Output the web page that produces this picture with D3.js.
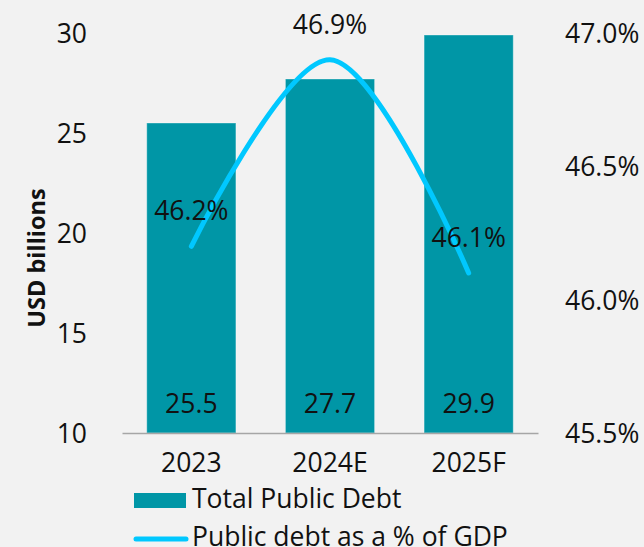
<!DOCTYPE html>
<html lang="en">
<head>
  <meta charset="UTF-8">
  <title>Public Debt</title>
  <script src="https://cdn.jsdelivr.net/npm/d3@7"></script>
  <style>
    html, body {
      margin: 0;
      padding: 0;
      background: #f2f2f2;
    }
    svg text {
      font-family: "Open Sans", sans-serif;
      fill: #111;
    }
  </style>
</head>
<body>
<div id="chart"></div>

<script>
  // chart data
  const years = ["2023", "2024E", "2025F"];
  const debtValues = [25.5, 27.7, 29.9];
  const gdpShare = [46.2, 46.9, 46.1];
  const leftTicks = [10, 15, 20, 25, 30];
  const rightTicks = [45.5, 46.0, 46.5, 47.0];
  const seriesNames = ["Total Public Debt", "Public debt as a % of GDP"];

  const width = 644;
  const height = 547;
  const plot = { left: 122, right: 538, top: 33, bottom: 433 };
  const fontSize = 26.5;

  const barColor = "#0096a6";
  const lineColor = "#00c8ff";

  const svg = d3.select("#chart")
    .append("svg")
    .attr("width", width)
    .attr("height", height);

  const x = d3.scaleBand()
    .domain(years)
    .range([plot.left, plot.right])
    .paddingInner(0.357)
    .paddingOuter(0.1785);

  const yLeft = d3.scaleLinear()
    .domain([10, 30])
    .range([plot.bottom, plot.top]);

  const yRight = d3.scaleLinear()
    .domain([45.5, 47.0])
    .range([plot.bottom, plot.top]);

  // left axis (labels only)
  const leftAxis = svg.append("g")
    .attr("transform", `translate(${plot.left - 35},0)`)
    .call(d3.axisLeft(yLeft).tickValues(leftTicks).tickSize(0).tickPadding(0));
  leftAxis.select(".domain").remove();
  leftAxis.selectAll("text")
    .attr("font-size", fontSize)
    .attr("dy", "0.36em")
    .attr("fill", "#111");

  // right axis (labels only)
  const rightAxis = svg.append("g")
    .attr("transform", `translate(565,0)`)
    .call(d3.axisRight(yRight).tickValues(rightTicks).tickSize(0).tickPadding(0)
      .tickFormat(d => d.toFixed(1) + "%"));
  rightAxis.select(".domain").remove();
  rightAxis.selectAll("text")
    .attr("font-size", fontSize)
    .attr("dy", "0.36em")
    .attr("fill", "#111");

  // y title
  svg.append("text")
    .attr("transform", `translate(45,258) rotate(-90)`)
    .attr("text-anchor", "middle")
    .attr("font-size", 23.5)
    .attr("font-weight", "bold")
    .text("USD billions");

  // bars
  svg.append("g")
    .selectAll("rect")
    .data(years)
    .join("rect")
    .attr("x", d => x(d))
    .attr("width", x.bandwidth())
    .attr("y", (d, i) => yLeft(debtValues[i]))
    .attr("height", (d, i) => plot.bottom - yLeft(debtValues[i]))
    .attr("fill", barColor)
    .attr("stroke", "rgba(255,255,255,0.35)")
    .attr("stroke-width", 1);

  // x axis
  const xAxis = svg.append("g")
    .attr("transform", `translate(0,${plot.bottom})`)
    .call(d3.axisBottom(x).tickSize(0).tickPadding(0));
  xAxis.select(".domain")
    .attr("stroke", "#a6a6a6")
    .attr("stroke-width", 1.3);
  xAxis.selectAll("text")
    .attr("font-size", fontSize)
    .attr("dy", "1.47em")
    .attr("y", 0)
    .attr("fill", "#111");

  // bar labels
  svg.append("g")
    .selectAll("text")
    .data(years)
    .join("text")
    .attr("x", d => x(d) + x.bandwidth() / 2)
    .attr("y", plot.bottom - 20)
    .attr("text-anchor", "middle")
    .attr("font-size", fontSize)
    .text((d, i) => debtValues[i].toFixed(1));

  // line
  const line = d3.line()
    .x((d, i) => x(years[i]) + x.bandwidth() / 2)
    .y(d => yRight(d))
    .curve(d3.curveCatmullRom.alpha(0.5));

  svg.append("path")
    .datum(gdpShare)
    .attr("d", line)
    .attr("fill", "none")
    .attr("stroke", lineColor)
    .attr("stroke-width", 5)
    .attr("stroke-linecap", "round");

  // line labels
  svg.append("g")
    .selectAll("text")
    .data(gdpShare)
    .join("text")
    .attr("x", (d, i) => x(years[i]) + x.bandwidth() / 2)
    .attr("y", d => yRight(d) - 26)
    .attr("text-anchor", "middle")
    .attr("font-size", fontSize)
    .text(d => d.toFixed(1) + "%");

  // legend
  const legend = svg.append("g").attr("transform", "translate(134,0)");
  legend.append("rect")
    .attr("x", 0)
    .attr("y", 493)
    .attr("width", 52)
    .attr("height", 15)
    .attr("fill", barColor);
  legend.append("text")
    .attr("x", 58)
    .attr("y", 508)
    .attr("font-size", fontSize)
    .text(seriesNames[0]);
  legend.append("line")
    .attr("x1", 2)
    .attr("x2", 52)
    .attr("y1", 539)
    .attr("y2", 539)
    .attr("stroke", lineColor)
    .attr("stroke-width", 5)
    .attr("stroke-linecap", "round");
  legend.append("text")
    .attr("x", 58)
    .attr("y", 546)
    .attr("font-size", fontSize)
    .text(seriesNames[1]);
</script>
</body>
</html>
